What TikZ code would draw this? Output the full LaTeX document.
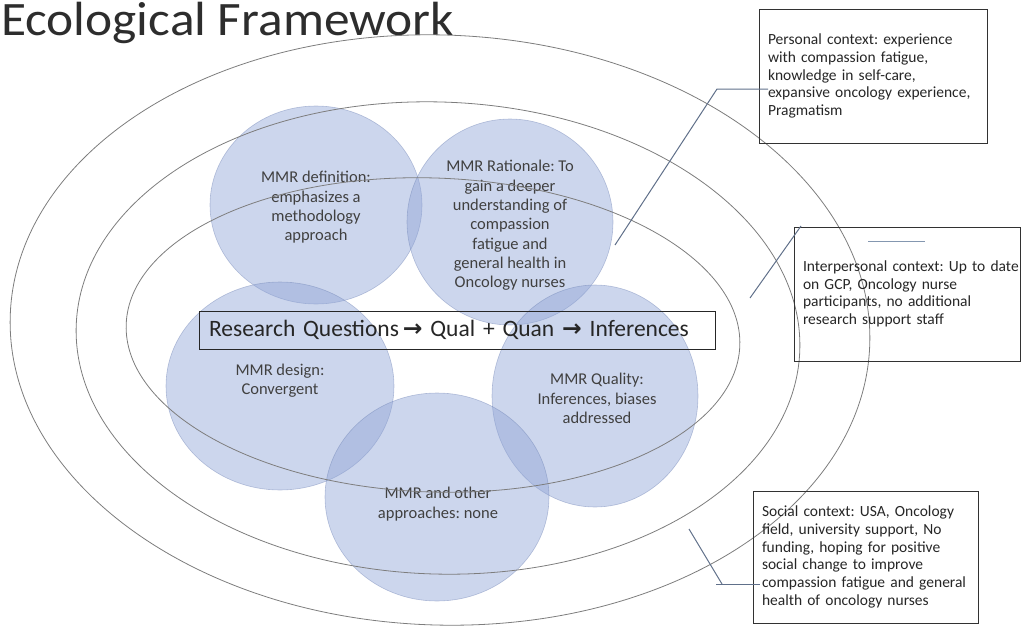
\documentclass[tikz,border=0pt]{standalone}
\usepackage{fontspec}
\setmainfont{Carlito}
\newfontfamily\symfont{DejaVu Sans}
\newfontfamily\titlefont[FakeStretch=1.07]{Carlito}
\usetikzlibrary{shapes.geometric}
\definecolor{ringgray}{RGB}{125,125,125}
\definecolor{circblue}{RGB}{143,164,214}
\definecolor{circedge}{RGB}{110,130,180}
\definecolor{textgray}{RGB}{64,64,64}
\definecolor{darktext}{RGB}{38,38,38}
\definecolor{titlegray}{RGB}{45,45,45}
\definecolor{boxgray}{RGB}{50,50,50}
\definecolor{callgray}{RGB}{96,112,138}
\definecolor{accentline}{RGB}{132,151,176}
\frenchspacing
\begin{document}
\begin{tikzpicture}[x=1pt,y=-1pt,
  ring/.style={draw=ringgray,line width=0.8pt},
  mmr/.style={ellipse,fill=circblue,fill opacity=0.45,draw=circedge,draw opacity=0.45,line width=0.6pt,inner sep=0pt},
  mmrtext/.style={inner sep=0pt,align=center,text=textgray,font=\fontsize{16.5}{19.3}\selectfont},
  ctx/.style={rectangle,draw=boxgray,line width=1pt,inner xsep=9pt,inner ysep=0pt,align=left,text=darktext,font=\fontsize{15.5}{17.7}\selectfont},
  callout/.style={draw=callgray,line width=1pt}]
\useasboundingbox (0,0) rectangle (1023,632);

% title
\node[anchor=base west,inner sep=0pt,text=titlegray,font=\titlefont\fontsize{48}{58}\selectfont] (title) at (1,35) {Ecological Framework};

% MMR circles
\node[mmr,minimum width=212pt,minimum height=198pt] (def) at (316,205) {};
\node[mmr,minimum width=206pt,minimum height=206pt] (rat) at (510,222) {};
\node[mmr,minimum width=228pt,minimum height=208pt] (des) at (280,386) {};
\node[mmr,minimum width=206pt,minimum height=222pt] (qual) at (595,396) {};
\node[mmr,minimum width=224pt,minimum height=208pt] (oth) at (437,497) {};

\node[mmrtext] (deft) at (316,207.5) {MMR definition:\\emphasizes a\\methodology\\approach};
\node[mmrtext] (ratt) at (510,225.5) {MMR Rationale: To\\gain a deeper\\understanding of\\compassion\\fatigue and\\general health in\\Oncology nurses};
\node[mmrtext] (dest) at (280,381) {MMR design:\\Convergent};
\node[mmrtext] (qualt) at (597,398.5) {MMR Quality:\\Inferences, biases\\addressed};
\node[mmrtext] (otht) at (438,504) {MMR and other\\approaches: none};

% ecological rings
\draw[ring,rotate around={-2:(440,330)}] (440,330) ellipse [x radius=430,y radius=295];
\draw[ring,rotate around={-2:(438,338)}] (438,338) ellipse [x radius=362,y radius=236];
\draw[ring,rotate around={-2:(433,335)}] (433,335) ellipse [x radius=307,y radius=157];

% research questions box
\node[rectangle,draw=darktext,line width=0.9pt,minimum height=38pt,text width=496pt,inner xsep=10pt,inner ysep=0pt,align=left,text=darktext,font=\fontsize{23.5}{28}\selectfont] (rq) at (457,330) {Research Questions{\symfont\bfseries\,→} Qual + Quan {\symfont\bfseries→} Inferences};

% context boxes
\node[ctx,minimum height=134pt,text width=210pt] (pers) at (873,76) {Personal context: experience\\with compassion fatigue,\\knowledge in self-care,\\expansive oncology experience,\\Pragmatism};
\node[ctx,minimum height=134pt,text width=208pt] (inter) at (907,294) {\makebox[208pt][l]{Interpersonal context: Up to date}\\on GCP, Oncology nurse\\participants, no additional\\research support staff};
\node[ctx,minimum height=132pt,text width=207pt] (soc) at (865.5,557) {Social context: USA, Oncology\\field, university support, No\\funding, hoping for positive\\social change to improve\\compassion fatigue and general\\health of oncology nurses};

% callouts
\coordinate (p1) at (615,245);
\coordinate (p2) at (717,89);
\coordinate (p3) at (768,89);
\draw[callout] (p1) -- (p2) -- (p3);

\coordinate (i1) at (750,298);
\coordinate (i2) at (801,226);
\draw[callout] (i1) -- (i2);
\coordinate (i3) at (868,241);
\coordinate (i4) at (925,241);
\draw[draw=accentline,line width=1pt] (i3) -- (i4);

\coordinate (s1) at (689,529);
\coordinate (s2) at (722,584);
\coordinate (s3) at (716,584);
\coordinate (s4) at (760,584);
\draw[callout] (s1) -- (s2);
\draw[callout] (s3) -- (s4);
\end{tikzpicture}
\end{document}
